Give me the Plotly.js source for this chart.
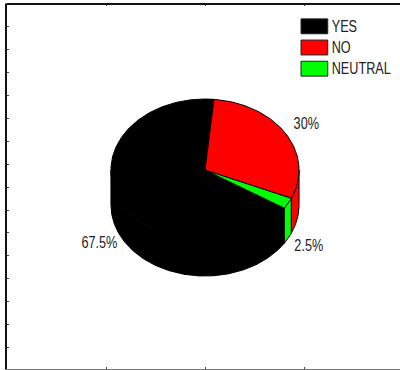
<!DOCTYPE html>
<html>
<head>
<meta charset="utf-8">
<script src="https://cdn.plot.ly/plotly-3.0.1.min.js"></script>
<style>
html,body{margin:0;padding:0;width:400px;height:370px;overflow:hidden;background:#fff}
</style>
</head>
<body>
<div id="chart"></div>
<script>
// Survey answers
const categories = ['YES', 'NO', 'NEUTRAL'];
const shares = [67.5, 30, 2.5];
const labels = ['67.5%', '30%', '2.5%'];
const colors = ['#000000', '#ff0000', '#00ff00'];

// Projection of the tilted disc, in axis units
const startAngle = 122.5;   // clockwise from twelve o'clock
const radiusX = 0.95;
const radiusY = 3.1;
const depth = 1.53;
const labelFactor = 1.25;
const fontFamily = '"Liberation Sans", Arial, sans-serif';
const fontSize = 17;
const textSqueeze = 0.745;   // narrow lettering for all chart text

const px = a => radiusX * Math.sin(a * Math.PI / 180);
const py = (a, drop) => radiusY * Math.cos(a * Math.PI / 180) - drop;

function arc(from, to, drop) {
  const pts = [];
  const n = Math.max(2, Math.ceil(Math.abs(to - from)));
  for (let i = 0; i <= n; i++) {
    const a = from + (to - from) * i / n;
    pts.push([px(a), py(a, drop)]);
  }
  return pts;
}

function polygon(name, pts, color) {
  return {
    type: 'scatter', mode: 'lines', name,
    x: pts.map(p => p[0]), y: pts.map(p => p[1]),
    fill: 'toself', fillcolor: color,
    line: {color: '#000', width: 1},
    hoverinfo: 'name', showlegend: false
  };
}

// Slice spans around the disc
const spans = [];
let cursor = startAngle;
shares.forEach((share, i) => {
  spans.push({from: cursor, to: cursor + share * 3.6, i});
  cursor += share * 3.6;
});

const walls = [];
const tops = [];
const texts = {x: [], y: [], text: []};
spans.forEach(({from, to, i}) => {
  // Normalised so the visible front of the wall lies between 90 and 270 degrees
  const f = from % 360, t = f + (to - from);
  const lo = Math.max(f, 90), hi = Math.min(t, 270);
  if (hi > lo) {
    const side = arc(lo, hi, 0).concat(arc(hi, lo, depth));
    side.push(side[0]);
    walls.push(polygon(categories[i], side, colors[i]));
  }
  const face = [[0, 0]].concat(arc(from, to, 0), [[0, 0]]);
  tops.push(polygon(categories[i], face, colors[i]));

  const mid = (from + to) / 2;
  const lower = Math.cos(mid * Math.PI / 180) < 0;
  texts.x.push(px(mid) * labelFactor);
  texts.y.push(py(mid, 0) * labelFactor - (lower ? depth : 0));
  texts.text.push(labels[i]);
});

const sliceLabels = {
  type: 'scatter', mode: 'text', x: texts.x, y: texts.y, text: texts.text,
  textposition: 'middle center',
  textfont: {family: fontFamily, size: fontSize, color: '#222'},
  hoverinfo: 'skip', showlegend: false, cliponaxis: false
};

// Key in the upper right corner
const keyShapes = categories.map((c, i) => ({
  type: 'rect', xref: 'x', yref: 'y',
  x0: 0.97, x1: 1.24,
  y0: 6.6 - i * 0.925, y1: 5.95 - i * 0.925,
  fillcolor: colors[i], line: {color: '#222', width: 1}
}));
const keyLabels = {
  type: 'scatter', mode: 'text',
  x: categories.map(() => 1.28),
  y: categories.map((c, i) => 6.22 - i * 0.925),
  text: categories,
  textposition: 'middle right',
  textfont: {family: fontFamily, size: fontSize, color: '#222'},
  hoverinfo: 'skip', showlegend: false, cliponaxis: false
};

// Dark upper rule over the lighter bottom edge
const topRule = {
  type: 'line', xref: 'paper', yref: 'paper',
  x0: 0, x1: 1, y0: 1, y1: 1,
  line: {color: '#111', width: 2}
};

const frame = {
  showgrid: false, zeroline: false, showticklabels: false,
  showline: true, mirror: 'ticks',
  ticks: 'inside', ticklen: 2, tickcolor: '#444', tickwidth: 1,
  dtick: 1, fixedrange: true
};

const chart = document.getElementById('chart');
Plotly.newPlot(chart, walls.concat(tops, [sliceLabels, keyLabels]), {
  width: 410, height: 370,
  margin: {l: 7, r: 7, t: 4, b: 1, pad: 0},
  paper_bgcolor: '#fff', plot_bgcolor: '#fff',
  showlegend: false,
  xaxis: Object.assign({}, frame, {range: [-2, 2], tick0: 0, linecolor: '#777', linewidth: 1}),
  yaxis: Object.assign({}, frame, {range: [-8.69, 7.25], tick0: 0.25, linecolor: '#111', linewidth: 2}),
  shapes: keyShapes.concat([topRule])
}, {displayModeBar: false, staticPlot: true}).then(() => {
  // Condense the lettering horizontally about each text's own anchor
  chart.querySelectorAll('.textpoint text').forEach(el => {
    const ax = parseFloat(el.getAttribute('x')) || 0;
    const prior = el.getAttribute('transform') || '';
    const shift = (ax * (1 - textSqueeze)).toFixed(2);
    el.setAttribute('transform', `${prior} matrix(${textSqueeze} 0 0 1 ${shift} 0)`.trim());
  });
});
</script>
</body>
</html>
